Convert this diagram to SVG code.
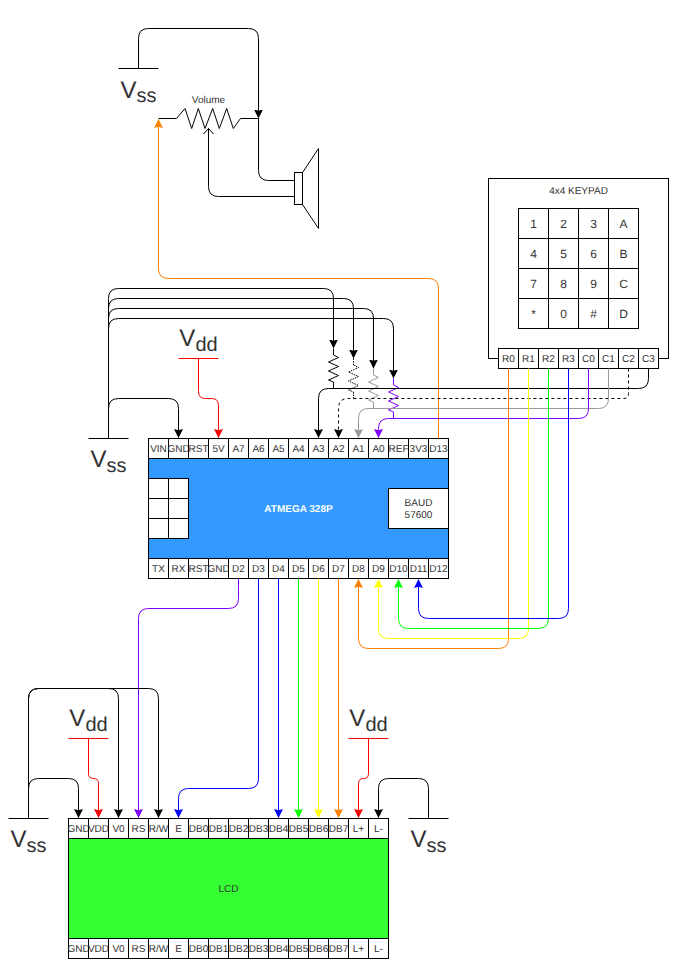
<svg xmlns="http://www.w3.org/2000/svg" xmlns:xlink="http://www.w3.org/1999/xlink" width="677" height="967" viewBox="0 0 677 967">
<style>
text{font-family:"Liberation Sans",Arial,sans-serif;font-size:10px;fill:#333;text-anchor:middle;text-rendering:geometricPrecision}
.big{font-size:24px}
.big tspan{font-size:20px}
.key{font-size:12px}
.title{font-weight:bold;fill:#fff}
rect,.o{fill:none;stroke:#000;stroke-width:1}
rect.w{fill:#fff}
rect.blue{fill:#3399ff}
rect.green{fill:#33ff33}
.c path,.c line,.z{fill:none;stroke-width:1}
.k{stroke:#000}.r{stroke:#ff0000}.or{stroke:#ff8000}.y{stroke:#ffff00}.g{stroke:#00ff00}.b{stroke:#0000ff}.p{stroke:#7f00ff}.gr{stroke:#999999}
.d{stroke-dasharray:3 3}.dot{stroke-dasharray:1.5 1}
.ak{marker-end:url(#ak)}.ar{marker-end:url(#ar)}.aor{marker-end:url(#aor)}.ay{marker-end:url(#ay)}.ag{marker-end:url(#ag)}.ab{marker-end:url(#ab)}.ap{marker-end:url(#ap)}.agr{marker-end:url(#agr)}
</style>
<defs>
<marker id="ak" markerUnits="userSpaceOnUse" markerWidth="11" markerHeight="11" refX="8.5" refY="5" orient="auto"><path d="M9,5L0,0.5L1.2,5L0,9.5Z" fill="#000"/></marker>
<marker id="ar" markerUnits="userSpaceOnUse" markerWidth="11" markerHeight="11" refX="8.5" refY="5" orient="auto"><path d="M9,5L0,0.5L1.2,5L0,9.5Z" fill="#ff0000"/></marker>
<marker id="aor" markerUnits="userSpaceOnUse" markerWidth="11" markerHeight="11" refX="8.5" refY="5" orient="auto"><path d="M9,5L0,0.5L1.2,5L0,9.5Z" fill="#ff8000"/></marker>
<marker id="ay" markerUnits="userSpaceOnUse" markerWidth="11" markerHeight="11" refX="8.5" refY="5" orient="auto"><path d="M9,5L0,0.5L1.2,5L0,9.5Z" fill="#ffff00"/></marker>
<marker id="ag" markerUnits="userSpaceOnUse" markerWidth="11" markerHeight="11" refX="8.5" refY="5" orient="auto"><path d="M9,5L0,0.5L1.2,5L0,9.5Z" fill="#00ff00"/></marker>
<marker id="ab" markerUnits="userSpaceOnUse" markerWidth="11" markerHeight="11" refX="8.5" refY="5" orient="auto"><path d="M9,5L0,0.5L1.2,5L0,9.5Z" fill="#0000ff"/></marker>
<marker id="ap" markerUnits="userSpaceOnUse" markerWidth="11" markerHeight="11" refX="8.5" refY="5" orient="auto"><path d="M9,5L0,0.5L1.2,5L0,9.5Z" fill="#7f00ff"/></marker>
<marker id="agr" markerUnits="userSpaceOnUse" markerWidth="11" markerHeight="11" refX="8.5" refY="5" orient="auto"><path d="M9,5L0,0.5L1.2,5L0,9.5Z" fill="#999999"/></marker>
<marker id="open" markerUnits="userSpaceOnUse" markerWidth="10" markerHeight="12" refX="6" refY="6" orient="auto"><path d="M0.5,1L6,6L0.5,11" fill="none" stroke="#000"/></marker>
<path id="zig" d="M0,0L5,2.5L-5,7L5,11.5L-5,16L5,20.5L-5,25L0,27"/>
</defs>

<g id="atmega">
<rect class="blue" x="148.5" y="458.5" width="300" height="100"/>
<rect class="w" x="148.5" y="478.5" width="20" height="20"/><rect class="w" x="168.5" y="478.5" width="20" height="20"/>
<rect class="w" x="148.5" y="498.5" width="20" height="20"/><rect class="w" x="168.5" y="498.5" width="20" height="20"/>
<rect class="w" x="148.5" y="518.5" width="20" height="20"/><rect class="w" x="168.5" y="518.5" width="20" height="20"/>
<rect class="w" x="388.5" y="488.5" width="60" height="40"/>
<text class="title" x="298.5" y="512">ATMEGA 328P</text>
<text x="418.5" y="506">BAUD</text><text x="418.5" y="518">57600</text>
<g>
<rect class="w" x="148.5" y="438.5" width="20" height="20"/><text x="158.5" y="452">VIN</text>
<rect class="w" x="168.5" y="438.5" width="20" height="20"/><text x="178.5" y="452">GND</text>
<rect class="w" x="188.5" y="438.5" width="20" height="20"/><text x="198.5" y="452">RST</text>
<rect class="w" x="208.5" y="438.5" width="20" height="20"/><text x="218.5" y="452">5V</text>
<rect class="w" x="228.5" y="438.5" width="20" height="20"/><text x="238.5" y="452">A7</text>
<rect class="w" x="248.5" y="438.5" width="20" height="20"/><text x="258.5" y="452">A6</text>
<rect class="w" x="268.5" y="438.5" width="20" height="20"/><text x="278.5" y="452">A5</text>
<rect class="w" x="288.5" y="438.5" width="20" height="20"/><text x="298.5" y="452">A4</text>
<rect class="w" x="308.5" y="438.5" width="20" height="20"/><text x="318.5" y="452">A3</text>
<rect class="w" x="328.5" y="438.5" width="20" height="20"/><text x="338.5" y="452">A2</text>
<rect class="w" x="348.5" y="438.5" width="20" height="20"/><text x="358.5" y="452">A1</text>
<rect class="w" x="368.5" y="438.5" width="20" height="20"/><text x="378.5" y="452">A0</text>
<rect class="w" x="388.5" y="438.5" width="20" height="20"/><text x="398.5" y="452">REF</text>
<rect class="w" x="408.5" y="438.5" width="20" height="20"/><text x="418.5" y="452">3V3</text>
<rect class="w" x="428.5" y="438.5" width="20" height="20"/><text x="438.5" y="452">D13</text>
</g>
<g>
<rect class="w" x="148.5" y="558.5" width="20" height="20"/><text x="158.5" y="572">TX</text>
<rect class="w" x="168.5" y="558.5" width="20" height="20"/><text x="178.5" y="572">RX</text>
<rect class="w" x="188.5" y="558.5" width="20" height="20"/><text x="198.5" y="572">RST</text>
<rect class="w" x="208.5" y="558.5" width="20" height="20"/><text x="218.5" y="572">GND</text>
<rect class="w" x="228.5" y="558.5" width="20" height="20"/><text x="238.5" y="572">D2</text>
<rect class="w" x="248.5" y="558.5" width="20" height="20"/><text x="258.5" y="572">D3</text>
<rect class="w" x="268.5" y="558.5" width="20" height="20"/><text x="278.5" y="572">D4</text>
<rect class="w" x="288.5" y="558.5" width="20" height="20"/><text x="298.5" y="572">D5</text>
<rect class="w" x="308.5" y="558.5" width="20" height="20"/><text x="318.5" y="572">D6</text>
<rect class="w" x="328.5" y="558.5" width="20" height="20"/><text x="338.5" y="572">D7</text>
<rect class="w" x="348.5" y="558.5" width="20" height="20"/><text x="358.5" y="572">D8</text>
<rect class="w" x="368.5" y="558.5" width="20" height="20"/><text x="378.5" y="572">D9</text>
<rect class="w" x="388.5" y="558.5" width="20" height="20"/><text x="398.5" y="572">D10</text>
<rect class="w" x="408.5" y="558.5" width="20" height="20"/><text x="418.5" y="572">D11</text>
<rect class="w" x="428.5" y="558.5" width="20" height="20"/><text x="438.5" y="572">D12</text>
</g>
</g>

<g id="keypad">
<rect class="w" x="488.5" y="178.5" width="180" height="180"/>
<text x="578.5" y="193.5">4x4 KEYPAD</text>
<rect class="w" x="518.5" y="208.5" width="30" height="30"/><text class="key" x="533.5" y="227.5">1</text>
<rect class="w" x="548.5" y="208.5" width="30" height="30"/><text class="key" x="563.5" y="227.5">2</text>
<rect class="w" x="578.5" y="208.5" width="30" height="30"/><text class="key" x="593.5" y="227.5">3</text>
<rect class="w" x="608.5" y="208.5" width="30" height="30"/><text class="key" x="623.5" y="227.5">A</text>
<rect class="w" x="518.5" y="238.5" width="30" height="30"/><text class="key" x="533.5" y="257.5">4</text>
<rect class="w" x="548.5" y="238.5" width="30" height="30"/><text class="key" x="563.5" y="257.5">5</text>
<rect class="w" x="578.5" y="238.5" width="30" height="30"/><text class="key" x="593.5" y="257.5">6</text>
<rect class="w" x="608.5" y="238.5" width="30" height="30"/><text class="key" x="623.5" y="257.5">B</text>
<rect class="w" x="518.5" y="268.5" width="30" height="30"/><text class="key" x="533.5" y="287.5">7</text>
<rect class="w" x="548.5" y="268.5" width="30" height="30"/><text class="key" x="563.5" y="287.5">8</text>
<rect class="w" x="578.5" y="268.5" width="30" height="30"/><text class="key" x="593.5" y="287.5">9</text>
<rect class="w" x="608.5" y="268.5" width="30" height="30"/><text class="key" x="623.5" y="287.5">C</text>
<rect class="w" x="518.5" y="298.5" width="30" height="30"/><text class="key" x="533.5" y="317.5">*</text>
<rect class="w" x="548.5" y="298.5" width="30" height="30"/><text class="key" x="563.5" y="317.5">0</text>
<rect class="w" x="578.5" y="298.5" width="30" height="30"/><text class="key" x="593.5" y="317.5">#</text>
<rect class="w" x="608.5" y="298.5" width="30" height="30"/><text class="key" x="623.5" y="317.5">D</text>
<rect class="w" x="498.5" y="348.5" width="20" height="20"/><text x="508.5" y="362">R0</text>
<rect class="w" x="518.5" y="348.5" width="20" height="20"/><text x="528.5" y="362">R1</text>
<rect class="w" x="538.5" y="348.5" width="20" height="20"/><text x="548.5" y="362">R2</text>
<rect class="w" x="558.5" y="348.5" width="20" height="20"/><text x="568.5" y="362">R3</text>
<rect class="w" x="578.5" y="348.5" width="20" height="20"/><text x="588.5" y="362">C0</text>
<rect class="w" x="598.5" y="348.5" width="20" height="20"/><text x="608.5" y="362">C1</text>
<rect class="w" x="618.5" y="348.5" width="20" height="20"/><text x="628.5" y="362">C2</text>
<rect class="w" x="638.5" y="348.5" width="20" height="20"/><text x="648.5" y="362">C3</text>
</g>

<g id="lcd">
<rect class="green" x="68.5" y="838.5" width="320" height="100"/>
<text x="228.5" y="892">LCD</text>
<g>
<rect class="w" x="68.5" y="818.5" width="20" height="20"/><text x="78.5" y="832">GND</text>
<rect class="w" x="88.5" y="818.5" width="20" height="20"/><text x="98.5" y="832">VDD</text>
<rect class="w" x="108.5" y="818.5" width="20" height="20"/><text x="118.5" y="832">V0</text>
<rect class="w" x="128.5" y="818.5" width="20" height="20"/><text x="138.5" y="832">RS</text>
<rect class="w" x="148.5" y="818.5" width="20" height="20"/><text x="158.5" y="832">R/W</text>
<rect class="w" x="168.5" y="818.5" width="20" height="20"/><text x="178.5" y="832">E</text>
<rect class="w" x="188.5" y="818.5" width="20" height="20"/><text x="198.5" y="832">DB0</text>
<rect class="w" x="208.5" y="818.5" width="20" height="20"/><text x="218.5" y="832">DB1</text>
<rect class="w" x="228.5" y="818.5" width="20" height="20"/><text x="238.5" y="832">DB2</text>
<rect class="w" x="248.5" y="818.5" width="20" height="20"/><text x="258.5" y="832">DB3</text>
<rect class="w" x="268.5" y="818.5" width="20" height="20"/><text x="278.5" y="832">DB4</text>
<rect class="w" x="288.5" y="818.5" width="20" height="20"/><text x="298.5" y="832">DB5</text>
<rect class="w" x="308.5" y="818.5" width="20" height="20"/><text x="318.5" y="832">DB6</text>
<rect class="w" x="328.5" y="818.5" width="20" height="20"/><text x="338.5" y="832">DB7</text>
<rect class="w" x="348.5" y="818.5" width="20" height="20"/><text x="358.5" y="832">L+</text>
<rect class="w" x="368.5" y="818.5" width="20" height="20"/><text x="378.5" y="832">L-</text>
</g>
<g>
<rect class="w" x="68.5" y="938.5" width="20" height="20"/><text x="78.5" y="952">GND</text>
<rect class="w" x="88.5" y="938.5" width="20" height="20"/><text x="98.5" y="952">VDD</text>
<rect class="w" x="108.5" y="938.5" width="20" height="20"/><text x="118.5" y="952">V0</text>
<rect class="w" x="128.5" y="938.5" width="20" height="20"/><text x="138.5" y="952">RS</text>
<rect class="w" x="148.5" y="938.5" width="20" height="20"/><text x="158.5" y="952">R/W</text>
<rect class="w" x="168.5" y="938.5" width="20" height="20"/><text x="178.5" y="952">E</text>
<rect class="w" x="188.5" y="938.5" width="20" height="20"/><text x="198.5" y="952">DB0</text>
<rect class="w" x="208.5" y="938.5" width="20" height="20"/><text x="218.5" y="952">DB1</text>
<rect class="w" x="228.5" y="938.5" width="20" height="20"/><text x="238.5" y="952">DB2</text>
<rect class="w" x="248.5" y="938.5" width="20" height="20"/><text x="258.5" y="952">DB3</text>
<rect class="w" x="268.5" y="938.5" width="20" height="20"/><text x="278.5" y="952">DB4</text>
<rect class="w" x="288.5" y="938.5" width="20" height="20"/><text x="298.5" y="952">DB5</text>
<rect class="w" x="308.5" y="938.5" width="20" height="20"/><text x="318.5" y="952">DB6</text>
<rect class="w" x="328.5" y="938.5" width="20" height="20"/><text x="338.5" y="952">DB7</text>
<rect class="w" x="348.5" y="938.5" width="20" height="20"/><text x="358.5" y="952">L+</text>
<rect class="w" x="368.5" y="938.5" width="20" height="20"/><text x="378.5" y="952">L-</text>
</g>
</g>

<g id="speaker">
<rect class="w" x="294.5" y="172.5" width="8" height="32"/>
<path class="o" d="M302.5,172.5L318.5,148.5V228.5L302.5,204.5"/>
</g>

<g id="volume">
<text x="208.5" y="103">Volume</text>
<path class="o" d="M158.5,118.5H176.5L185,108.5L191.7,128.5L198.3,108.5L205,128.5L212.7,108.5L219.3,128.5L226.7,108.5L233.3,128.5L240.5,118.5H258.5"/>
</g>

<g id="vss-top"><line class="o" x1="118.5" y1="68.5" x2="158.5" y2="68.5"/><text class="big" x="138.5" y="97.5">V<tspan dy="4.5">ss</tspan></text></g>
<g id="vss-mid"><line class="o" x1="88.5" y1="438.5" x2="128.5" y2="438.5"/><text class="big" x="108.5" y="467">V<tspan dy="4.5">ss</tspan></text></g>
<g id="vss-left"><line class="o" x1="8.5" y1="818.5" x2="48.5" y2="818.5"/><text class="big" x="28.5" y="847">V<tspan dy="4.5">ss</tspan></text></g>
<g id="vss-right"><line class="o" x1="408.5" y1="818.5" x2="448.5" y2="818.5"/><text class="big" x="428.5" y="847">V<tspan dy="4.5">ss</tspan></text></g>
<g id="vdd-mid"><line class="r" x1="178.5" y1="358.5" x2="218.5" y2="358.5"/><text class="big" x="198.5" y="346">V<tspan dy="4.5">dd</tspan></text></g>
<g id="vdd-left"><line class="r" x1="68.5" y1="738.5" x2="108.5" y2="738.5"/><text class="big" x="88.5" y="726">V<tspan dy="4.5">dd</tspan></text></g>
<g id="vdd-right"><line class="r" x1="348.5" y1="738.5" x2="388.5" y2="738.5"/><text class="big" x="368.5" y="726">V<tspan dy="4.5">dd</tspan></text></g>

<g id="resistors" class="c">
<path class="k" d="M333.5,348.5V355M333.5,382V388.5"/><use href="#zig" x="333.5" y="355" class="z k"/>
<path class="k dot" d="M353.5,358.5V365M353.5,392V398.5"/><use href="#zig" x="353.5" y="365" class="z k dot"/>
<path class="gr" d="M373.5,368.5V375M373.5,402V408.5"/><use href="#zig" x="373.5" y="375" class="z gr"/>
<path class="p" d="M393.5,378.5V385M393.5,412V418.5"/><use href="#zig" x="393.5" y="385" class="z p"/>
</g>

<g id="connectors" class="c">
<path class="k ak" d="M138.5,68.5V38.5Q138.5,28.5 148.5,28.5H248.5Q258.5,28.5 258.5,38.5V118"/>
<path class="k" d="M258.5,118.5V170.5Q258.5,180.5 268.5,180.5H294.5"/>
<path class="k" marker-end="url(#open)" d="M294.5,196.5H218.5Q208.5,196.5 208.5,186.5V128.5"/>
<path class="or aor" d="M438.5,438.5V288.5Q438.5,278.5 428.5,278.5H168.5Q158.5,278.5 158.5,268.5V119.5"/>

<path class="k ak" d="M108.5,438.5V298.5Q108.5,288.5 118.5,288.5H323.5Q333.5,288.5 333.5,298.5V348"/>
<path class="k ak" d="M108.5,438.5V308.5Q108.5,298.5 118.5,298.5H343.5Q353.5,298.5 353.5,308.5V358"/>
<path class="k ak" d="M108.5,438.5V318.5Q108.5,308.5 118.5,308.5H363.5Q373.5,308.5 373.5,318.5V368"/>
<path class="k ak" d="M108.5,438.5V328.5Q108.5,318.5 118.5,318.5H383.5Q393.5,318.5 393.5,328.5V378"/>
<path class="k ak" d="M108.5,438.5V408.5Q108.5,398.5 118.5,398.5H168.5Q178.5,398.5 178.5,408.5V437.5"/>
<path class="r ar" d="M198.5,358.5V391.5Q198.5,398.5 205.5,398.5H211.5Q218.5,398.5 218.5,405.5V437.5"/>

<path class="k ak" d="M648.5,368.5V378.5Q648.5,388.5 638.5,388.5H328.5Q318.5,388.5 318.5,398.5V437.5"/>
<path class="k d ak" d="M628.5,368.5V393.5Q628.5,398.5 623.5,398.5H348.5Q338.5,398.5 338.5,408.5V437.5"/>
<path class="gr agr" d="M608.5,368.5V398.5Q608.5,408.5 598.5,408.5H368.5Q358.5,408.5 358.5,418.5V437.5"/>
<path class="p ap" d="M588.5,368.5V408.5Q588.5,418.5 578.5,418.5H388.5Q378.5,418.5 378.5,428.5V437.5"/>

<path class="or aor" d="M508.5,368.5V638.5Q508.5,648.5 498.5,648.5H368.5Q358.5,648.5 358.5,638.5V579.5"/>
<path class="y ay" d="M528.5,368.5V628.5Q528.5,638.5 518.5,638.5H388.5Q378.5,638.5 378.5,628.5V579.5"/>
<path class="g ag" d="M548.5,368.5V618.5Q548.5,628.5 538.5,628.5H408.5Q398.5,628.5 398.5,618.5V579.5"/>
<path class="b ab" d="M568.5,368.5V608.5Q568.5,618.5 558.5,618.5H428.5Q418.5,618.5 418.5,608.5V579.5"/>

<path class="p ap" d="M238.5,578.5V598.5Q238.5,608.5 228.5,608.5H148.5Q138.5,608.5 138.5,618.5V817.5"/>
<path class="b ab" d="M258.5,578.5V778.5Q258.5,788.5 248.5,788.5H188.5Q178.5,788.5 178.5,798.5V817.5"/>
<path class="b ab" d="M278.5,578.5V817.5"/>
<path class="g ag" d="M298.5,578.5V817.5"/>
<path class="y ay" d="M318.5,578.5V817.5"/>
<path class="or aor" d="M338.5,578.5V817.5"/>

<path class="k ak" d="M28.5,818.5V698.5Q28.5,688.5 38.5,688.5H108.5Q118.5,688.5 118.5,698.5V817.5"/>
<path class="k ak" d="M28.5,818.5V698.5Q28.5,688.5 38.5,688.5H148.5Q158.5,688.5 158.5,698.5V817.5"/>
<path class="k ak" d="M28.5,818.5V788.5Q28.5,778.5 38.5,778.5H68.5Q78.5,778.5 78.5,788.5V817.5"/>
<path class="r ar" d="M88.5,738.5V773.5Q88.5,778.5 93.5,778.5Q98.5,778.5 98.5,783.5V817.5"/>
<path class="r ar" d="M368.5,738.5V773.5Q368.5,778.5 363.5,778.5Q358.5,778.5 358.5,783.5V817.5"/>
<path class="k ak" d="M428.5,818.5V788.5Q428.5,778.5 418.5,778.5H388.5Q378.5,778.5 378.5,788.5V817.5"/>
</g>
</svg>
